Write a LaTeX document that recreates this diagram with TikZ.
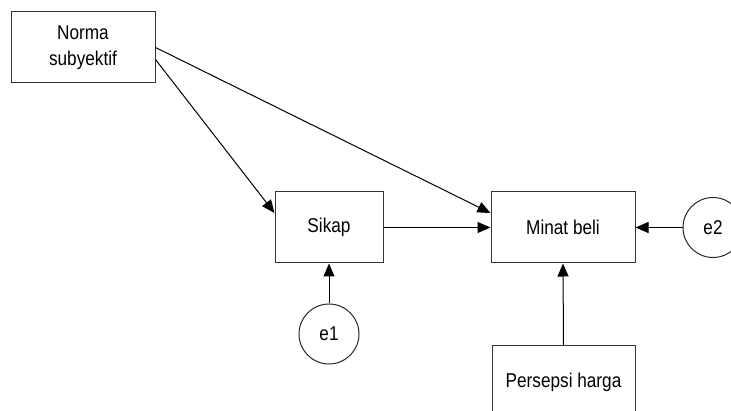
\documentclass[tikz,border=0pt]{standalone}
\usepackage{fontspec}
\setmainfont{Liberation Sans}[FakeStretch=0.86]
\usetikzlibrary{arrows.meta}
\begin{document}
\begin{tikzpicture}[x=1pt,y=-1pt,
  var/.style={draw=black!80, line width=1pt, rectangle, inner sep=0pt,
    align=center, font=\fontsize{20}{26}\selectfont},
  err/.style={draw=black!85, line width=1pt, circle, inner sep=0pt,
    minimum size=60pt, font=\fontsize{20}{26}\selectfont},
  path/.style={draw=black, line width=1pt,
    -{Triangle[length=13pt,width=11pt]}}]
  \useasboundingbox (0,0) rectangle (731,411);

  % observed variables
  \node[var, minimum width=144pt, minimum height=71pt] (norma) at (83,47.5) {Norma\\subyektif};
  \node[var, minimum width=108pt, minimum height=71pt] (sikap) at (329,227.5) {Sikap};
  \node[var, minimum width=144pt, minimum height=71pt] (minat) at (563,227.5) {Minat beli};
  \node[var, minimum width=143pt, minimum height=72pt] (harga) at (563.5,382) {Persepsi harga};

  % error terms
  \node[err] (e1) at (329,334) {e1};
  \node[err] (e2) at (713,227.5) {e2};

  % structural paths
  \draw[path] (norma.east) -- ([yshift=14.5pt]minat.west);
  \draw[path] ([yshift=-12pt]norma.east) -- ([yshift=14.5pt]sikap.west);
  \draw[path] (sikap.east) -- (minat.west);
  \draw[path] (e1) -- (sikap.south);
  \draw[path] (harga.north) -- (minat.south);
  \draw[path] (e2) -- (minat.east);
\end{tikzpicture}
\end{document}
